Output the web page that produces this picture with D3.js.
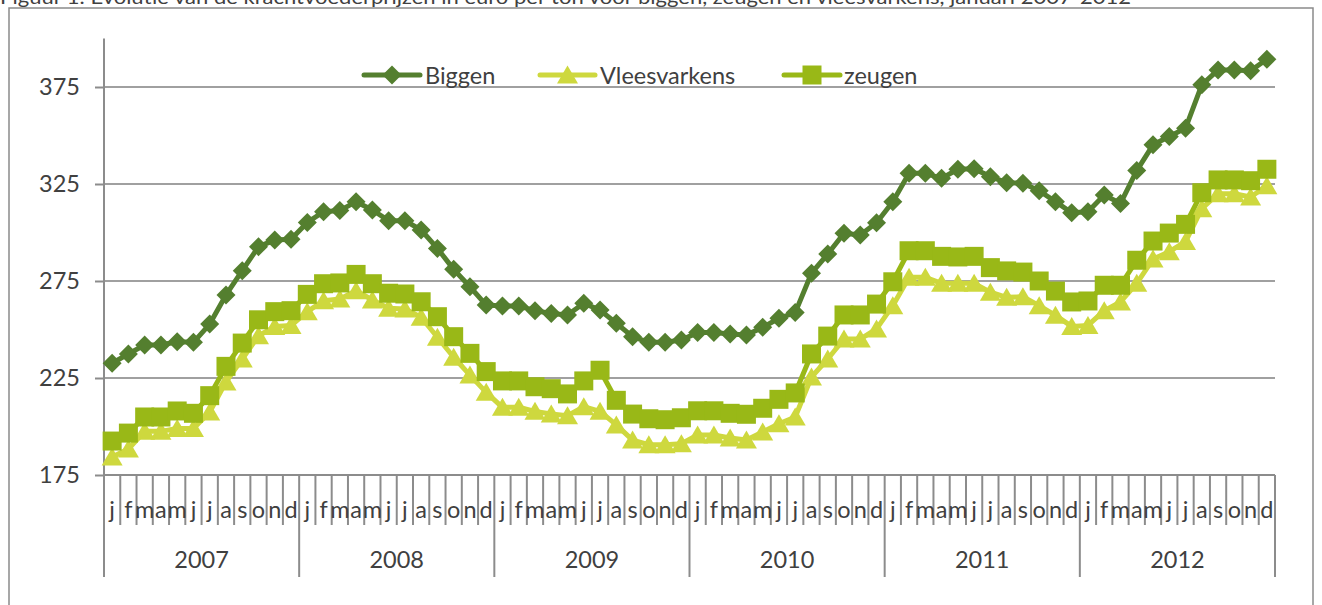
<!DOCTYPE html>
<html>
<head>
<meta charset="utf-8">
<script src="https://cdn.jsdelivr.net/npm/d3@7"></script>
<style>
  html, body { margin: 0; padding: 0; background: #fff; }
  svg { display: block; }
  text { font-family: Lato, "Open Sans", sans-serif; fill: #404040; }
</style>
</head>
<body>
<svg id="chart" width="1322" height="605"></svg>
<script>
const title = "Figuur 1. Evolutie van de krachtvoederprijzen in euro per ton voor biggen, zeugen en vleesvarkens, januari 2007-2012";
const years = ["2007", "2008", "2009", "2010", "2011", "2012"];
const monthLetters = ["j","f","m","a","m","j","j","a","s","o","n","d"];
const yTicks = [175, 225, 275, 325, 375];
const seriesNames = ["Biggen", "Vleesvarkens", "zeugen"];

const biggen = [
  232.6, 237.4, 242, 242, 243.7, 243.4, 252.8, 267.8, 280.3, 292.7, 296.1, 296.5,
  305.2, 310.7, 311.3, 315.9, 311.6, 306.1, 306.1, 301.3, 291.8, 281, 272, 262.6,
  262.1, 262.1, 259.7, 258.3, 257.5, 263.5, 260, 253.2, 246.3, 243.4, 243.4, 244.6,
  248.4, 248.4, 247.7, 247.2, 251.1, 255.8, 258.7, 279, 288.9, 299.6, 298.7, 305,
  315.9, 330.5, 330.5, 327.9, 332.6, 332.8, 328.8, 325.7, 325.4, 321.5, 315.9, 310.2,
  310.7, 319.3, 315, 331.9, 345.2, 349.5, 353.8, 376.1, 383.8, 383.8, 383.4, 389.3
];
const vleesvarkens = [
  184.3, 188.4, 197.5, 197.5, 199, 199, 207.5, 223, 234.8, 246.8, 251.5, 252,
  259.2, 264.8, 265.7, 270, 265.2, 261, 260.6, 256.3, 246, 235.7, 226.5, 217.6,
  209.9, 209.9, 207.8, 206.4, 205.6, 210.2, 207.8, 200.8, 193, 190.6, 190.6, 191.1,
  195.6, 195.6, 194.1, 193, 197.2, 201.4, 204.9, 225.5, 234.8, 245.1, 245.1, 250.3,
  262.3, 276.9, 276.9, 273.8, 273.8, 273.8, 269.2, 266.6, 266.9, 262.3, 257.3, 251.6,
  252.1, 259.7, 264.2, 273.8, 286.3, 290.1, 295.3, 312.3, 320, 320, 318.3, 324.1
];
const zeugen = [
  192.5, 196.6, 204.9, 204.9, 208, 206.8, 215.9, 231, 243, 255, 259.2, 259.7,
  268.1, 273.6, 274, 278.4, 273.6, 268.7, 268.3, 264.3, 256.6, 246.3, 237.7, 228.3,
  223.5, 223.5, 220.5, 219.5, 216.8, 223.5, 229, 213.5, 206.4, 204, 203.5, 204.5,
  208.1, 208.1, 206.8, 206.3, 209.4, 214, 217.3, 237.4, 246.6, 257.5, 257.5, 263.1,
  274.6, 290.6, 290.6, 287.7, 287.4, 287.7, 281.9, 280.2, 279.6, 275, 269.8, 264.2,
  264.7, 272.8, 272.8, 285.7, 295.6, 299.7, 304.2, 320.5, 327.1, 327.1, 326.7, 332.6
];

const cats = [];
years.forEach(yr => monthLetters.forEach((m, i) => cats.push(yr + "-" + i)));

const svg = d3.select("#chart");
const plotLeft = 104, plotRight = 1275, plotTop = 38.5, plotBottom = 475;
const fontSize = 23.5;

const x = d3.scaleBand().domain(cats).range([plotLeft, plotRight]).padding(0);
const y = d3.scaleLinear().domain([175, 400]).range([plotBottom, plotTop]);
const xYear = d3.scaleBand().domain(years).range([plotLeft, plotRight]).padding(0);

// Outer frame
svg.append("rect").attr("x", 9).attr("y", 8).attr("width", 1304).attr("height", 620)
  .attr("fill", "none").attr("stroke", "#8a8a8a").attr("stroke-width", 1.5);

// Title (partly above the top edge, as in the reference)
svg.append("text").attr("x", 0).attr("y", 3.5)
  .attr("font-size", 19).attr("textLength", 1131).attr("lengthAdjust", "spacingAndGlyphs")
  .text(title);

// Gridlines
svg.append("g").selectAll("line").data(yTicks.filter(v => v !== 175)).join("line")
  .attr("x1", plotLeft).attr("x2", plotRight)
  .attr("y1", d => y(d)).attr("y2", d => y(d))
  .attr("stroke", "#a0a0a0").attr("stroke-width", 2);

// Y axis
const yAxis = d3.axisLeft(y).tickValues(yTicks).tickSize(9).tickPadding(15).tickFormat(d3.format("d"));
const gy = svg.append("g").attr("transform", `translate(${plotLeft},0)`).call(yAxis);
gy.select(".domain").remove();
gy.selectAll(".tick line").attr("stroke", "#8c8c8c").attr("stroke-width", 2);
gy.selectAll(".tick text").attr("font-size", fontSize).attr("fill", "#404040")
  .style("font-family", "Lato, sans-serif");

svg.append("line").attr("x1", plotLeft).attr("x2", plotLeft).attr("y1", plotTop).attr("y2", 577)
  .attr("stroke", "#8c8c8c").attr("stroke-width", 2);

svg.append("line").attr("x1", plotLeft).attr("x2", plotRight).attr("y1", plotBottom).attr("y2", plotBottom)
  .attr("stroke", "#8c8c8c").attr("stroke-width", 2);

// Month tick lines
const gx = svg.append("g");
cats.forEach((c, i) => {
  const xb = x(c) + x.bandwidth();
  const isYearEnd = (i % 12 === 11);
  gx.append("line").attr("x1", xb).attr("x2", xb).attr("y1", plotBottom)
    .attr("y2", isYearEnd ? 577 : 525)
    .attr("stroke", "#8c8c8c").attr("stroke-width", 2);
});
gx.selectAll("text.month").data(cats).join("text").attr("class", "month")
  .attr("x", d => x(d) + x.bandwidth() / 2)
  .attr("y", 518)
  .attr("text-anchor", "middle")
  .attr("font-size", fontSize)
  .text(d => monthLetters[+d.split("-")[1]]);
gx.selectAll("text.year").data(years).join("text").attr("class", "year")
  .attr("x", d => xYear(d) + xYear.bandwidth() / 2)
  .attr("y", 568)
  .attr("text-anchor", "middle")
  .attr("font-size", fontSize)
  .text(d => d);

// Series
const series = [
  { name: seriesNames[0], values: biggen, color: "#547f2f", marker: "diamond" },
  { name: seriesNames[1], values: vleesvarkens, color: "#ced83e", marker: "triangle" },
  { name: seriesNames[2], values: zeugen, color: "#99b817", marker: "square" }
];

function markerPath(type) {
  if (type === "diamond") return "M0,-9.5L9.5,0L0,9.5L-9.5,0Z";
  if (type === "triangle") return "M0,-9.5L10.5,8.5L-10.5,8.5Z";
  return "M-9.5,-9.5H9.5V9.5H-9.5Z";
}

const line = d3.line().x((d, i) => x(cats[i]) + x.bandwidth() / 2).y(d => y(d));

series.forEach(s => {
  const g = svg.append("g");
  g.append("path").datum(s.values).attr("d", line)
    .attr("fill", "none").attr("stroke", s.color).attr("stroke-width", 5)
    .attr("stroke-linejoin", "round").attr("stroke-linecap", "round");
  g.selectAll("path.m").data(s.values).join("path").attr("class", "m")
    .attr("d", markerPath(s.marker))
    .attr("transform", (d, i) => `translate(${x(cats[i]) + x.bandwidth() / 2},${y(d)})`)
    .attr("fill", s.color);
});

// Legend
const legendItems = [
  { s: series[0], x0: 364, x1: 420, tx: 425 },
  { s: series[1], x0: 540, x1: 595, tx: 600 },
  { s: series[2], x0: 784, x1: 840, tx: 844 }
];
const lg = svg.append("g");
legendItems.forEach(it => {
  const ly = 75;
  lg.append("line").attr("x1", it.x0).attr("x2", it.x1).attr("y1", ly).attr("y2", ly)
    .attr("stroke", it.s.color).attr("stroke-width", 5).attr("stroke-linecap", "round");
  lg.append("path").attr("d", markerPath(it.s.marker))
    .attr("transform", `translate(${(it.x0 + it.x1) / 2},${ly})`).attr("fill", it.s.color);
  lg.append("text").attr("x", it.tx).attr("y", ly + 8.5).attr("font-size", fontSize).text(it.s.name);
});
</script>
</body>
</html>
